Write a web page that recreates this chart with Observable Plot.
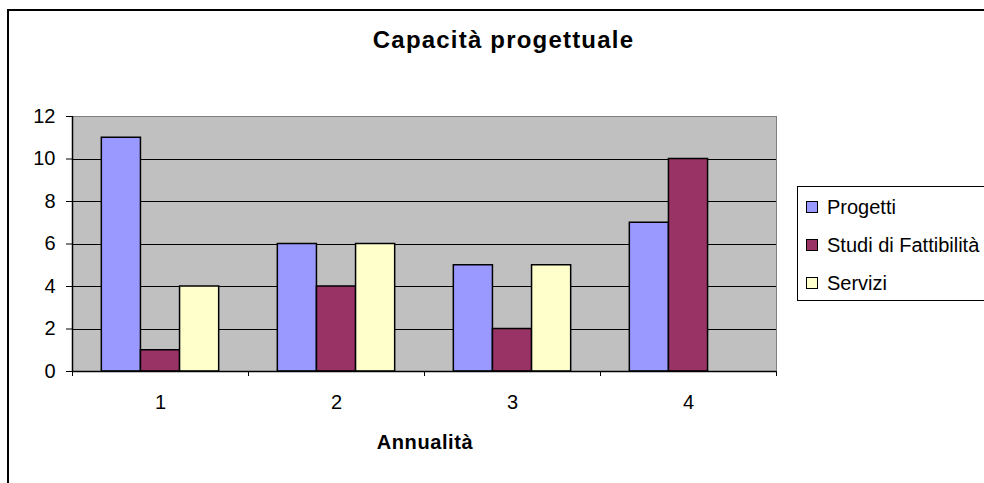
<!DOCTYPE html>
<html>
<head>
<meta charset="utf-8">
<script src="https://cdn.jsdelivr.net/npm/d3@7"></script>
<script src="https://cdn.jsdelivr.net/npm/@observablehq/plot@0.6"></script>
<style>
  html, body { margin: 0; padding: 0; background: #fff; }
  #wrap { position: relative; width: 984px; height: 483px; overflow: hidden; font-family: "Liberation Sans", Arial, sans-serif; color: #000; }
  #outer { position: absolute; left: 7px; top: 9px; width: 1000px; height: 500px; border: 2px solid #000; box-sizing: border-box; }
  #chart { position: absolute; left: 0; top: 0; }
  #title { position: absolute; left: 0; width: 1007px; top: 26px; text-align: center; font-weight: bold; font-size: 24px; letter-spacing: 1.2px; }
  #xlabel { position: absolute; left: 325px; width: 200px; top: 431px; text-align: center; font-weight: bold; font-size: 20px; letter-spacing: 0.6px; }
  #legend { position: absolute; left: 797px; top: 186px; width: 220px; height: 115px; border: 1px solid #000; box-sizing: border-box; background: #fff; }
  .item { position: absolute; left: 8px; font-size: 20px; line-height: 20px; white-space: nowrap; }
  .sw { display: inline-block; width: 10px; height: 10px; border: 1px solid #000; margin-right: 9px; vertical-align: 1px; }
</style>
</head>
<body>
<div id="wrap">
  <div id="outer"></div>
  <div id="chart"></div>
  <div id="title"></div>
  <div id="xlabel"></div>
  <div id="legend"></div>
</div>
<script>
const titleText = "Capacità progettuale";
const xLabelText = "Annualità";
const years = [1, 2, 3, 4];
const seriesNames = ["Progetti", "Studi di Fattibilità", "Servizi"];
const seriesColors = ["#9999ff", "#993366", "#ffffcc"];
const progetti = [11, 6, 5, 7];
const studi = [1, 4, 2, 10];
const servizi = [4, 6, 5, 0];
const yTicks = [0, 2, 4, 6, 8, 10, 12];

const seriesValues = [progetti, studi, servizi];
const rows = [];
years.forEach((yr, i) => {
  seriesValues.forEach((vals, si) => {
    rows.push({year: yr, si, series: seriesNames[si], value: vals[i]});
  });
});

// bars occupy 2/3 of each year slot, three bars side by side
const barW = 2 / 9;
const edges = [...years.map(y => y - 0.5), years[years.length - 1] + 0.5];

const chart = Plot.plot({
  width: 984,
  height: 483,
  marginLeft: 72,
  marginRight: 208,
  marginTop: 116,
  marginBottom: 112,
  style: {fontFamily: "'Liberation Sans', Arial, sans-serif", fontSize: "20px", color: "#000", background: "transparent"},
  x: {type: "linear", domain: [edges[0], edges[edges.length - 1]]},
  y: {domain: [0, 12]},
  color: {domain: seriesNames, range: seriesColors},
  marks: [
    Plot.frame({fill: "#c0c0c0", stroke: "#808080", shapeRendering: "crispEdges"}),
    Plot.ruleY(yTicks.filter(t => t > 0 && t < 12), {stroke: "#000", strokeWidth: 1, shapeRendering: "crispEdges"}),
    Plot.rectY(rows.filter(d => d.value > 0), {
      x1: d => d.year - 1 / 3 + d.si * barW,
      x2: d => d.year - 1 / 3 + (d.si + 1) * barW,
      y: "value",
      fill: "series",
      stroke: "#000",
      strokeWidth: 1.5
    }),
    Plot.ruleX([edges[0]], {stroke: "#000", strokeWidth: 1.5}),
    Plot.ruleY([0], {stroke: "#000", strokeWidth: 1.5}),
    Plot.axisY({ticks: yTicks, tickSize: 6, tickPadding: 11, label: null, fontSize: 20, stroke: "#000"}),
    Plot.axisX({ticks: edges, tickSize: 5, tickFormat: () => "", label: null, stroke: "#000"}),
    Plot.axisX({ticks: years, tickSize: 0, tickPadding: 23, tickFormat: d => String(d), label: null, fontSize: 20})
  ]
});
document.getElementById("chart").appendChild(chart);
document.getElementById("title").textContent = titleText;
document.getElementById("xlabel").textContent = xLabelText;

const legend = document.getElementById("legend");
seriesNames.forEach((name, i) => {
  const it = document.createElement("div");
  it.className = "item";
  it.style.top = (10 + i * 38) + "px";
  const sw = document.createElement("span");
  sw.className = "sw";
  sw.style.background = seriesColors[i];
  it.appendChild(sw);
  it.appendChild(document.createTextNode(name));
  legend.appendChild(it);
});
</script>
</body>
</html>
